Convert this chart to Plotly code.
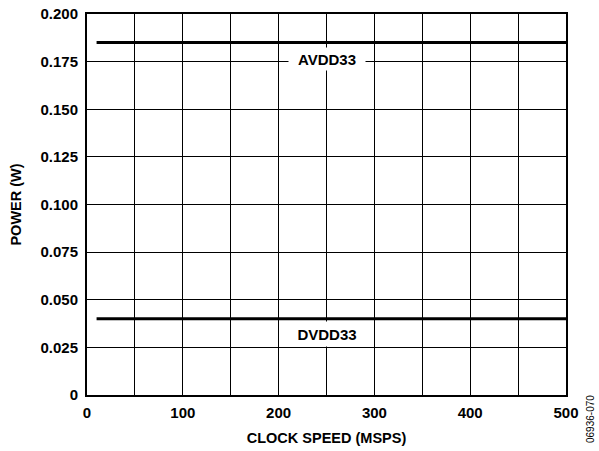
import plotly.graph_objects as go

clock_speed = [10, 500]
avdd33 = [0.185, 0.185]
dvdd33 = [0.040, 0.040]
x_ticks = [0, 100, 200, 300, 400, 500]
x_labels = ["0", "100", "200", "300", "400", "500"]
y_ticks = [0, 0.025, 0.050, 0.075, 0.100, 0.125, 0.150, 0.175, 0.200]
y_labels = ["0", "0.025", "0.050", "0.075", "0.100", "0.125", "0.150", "0.175", "0.200"]

FONT = "Liberation Sans, Arial, sans-serif"
FS = 15

fig = go.Figure()
fig.add_trace(go.Scatter(x=clock_speed, y=avdd33, mode="lines",
                         line=dict(color="black", width=3), name="AVDD33"))
fig.add_trace(go.Scatter(x=clock_speed, y=dvdd33, mode="lines",
                         line=dict(color="black", width=3), name="DVDD33"))

fig.add_annotation(x=250, y=0.1764, text="<b>AVDD33</b>", showarrow=False,
                   bgcolor="white", font=dict(family=FONT, size=FS, color="black"),
                   width=76, height=22, borderpad=0)
fig.add_annotation(x=250, y=0.032, text="<b>DVDD33</b>", showarrow=False,
                   bgcolor="white", font=dict(family=FONT, size=FS, color="black"),
                   width=76, height=24, borderpad=0)
fig.add_annotation(x=1.0, xref="paper", xanchor="center", xshift=24,
                   y=0.0, yref="paper", yanchor="middle", yshift=-24,
                   text="06936-070", textangle=-90,
                   showarrow=False, font=dict(family=FONT, size=10, color="black"))

fig.update_xaxes(range=[0, 500], tickvals=x_ticks,
                 ticktext=["<b>%s</b>" % t for t in x_labels],
                 showgrid=False, automargin=False,
                 showline=True, linecolor="black", linewidth=2, mirror=True,
                 ticks="", zeroline=False, ticklabelstandoff=3,
                 tickfont=dict(family=FONT, size=FS, color="black"),
                 title=dict(text="<b>CLOCK SPEED (MSPS)</b>", standoff=13,
                            font=dict(family=FONT, size=14.5, color="black")),
                 minor=dict(dtick=50, tick0=0, showgrid=True, gridcolor="black", gridwidth=1))
fig.update_yaxes(range=[0, 0.2], tickvals=y_ticks,
                 ticktext=["<b>%s</b>" % t for t in y_labels],
                 showgrid=True, gridcolor="black", gridwidth=1, automargin=False,
                 showline=True, linecolor="black", linewidth=2, mirror=True,
                 ticks="", zeroline=False, ticklabelstandoff=4,
                 ticklabeloverflow="allow",
                 tickfont=dict(family=FONT, size=FS, color="black"),
                 title=dict(text="<b>POWER (W)</b>", standoff=15,
                            font=dict(family=FONT, size=14.5, color="black")))

fig.update_layout(width=599, height=451, plot_bgcolor="white", paper_bgcolor="white",
                  showlegend=False, margin=dict(l=87, r=33, t=14, b=56))

fig.write_html("out.html", config={"displayModeBar": False},
               post_script="document.body.style.margin='0';document.body.style.overflow='hidden';")
